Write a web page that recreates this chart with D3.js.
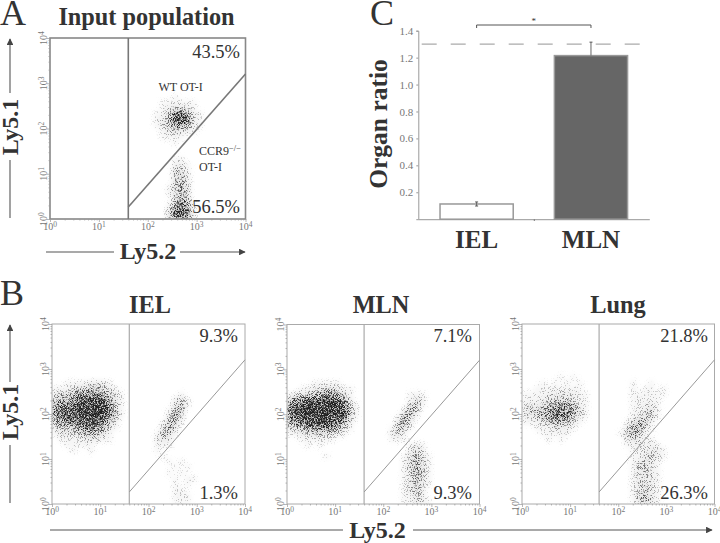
<!DOCTYPE html>
<html><head><meta charset="utf-8">
<script src="https://cdn.jsdelivr.net/npm/d3@7"></script>
<style>
html,body{margin:0;padding:0;background:#fff}
svg{display:block}
text{font-family:"Liberation Serif",serif}
</style></head><body><svg id="c" width="720" height="543"></svg>
<script>
// ---- Values ----
const barCategories = ["IEL", "MLN"];
const barValues = [0.113, 1.215];
const barErrors = [0.015, 0.1];
const barReference = 1.3;
const barTicks = [0.2, 0.4, 0.6, 0.8, 1.0, 1.2, 1.4];
const panelNames = ["Input population", "IEL", "MLN", "Lung"];
const upperPercents = ["43.5%", "9.3%", "7.1%", "21.8%"];
const lowerPercents = ["56.5%", "1.3%", "9.3%", "26.3%"];
const gateX = 40;
const gateDiagonal = [[40, 1.85], [10000, 1600]];
const logDecades = [1, 10, 100, 1000, 10000];

// Estimated event density (0-9) in 1/8-decade bins. Each string is one row, from
// log10(Ly5.1)=3 downwards; characters step through log10(Ly5.2) from 0.
const densityInput = [
"", "",
"000000000000 00000 0001",
"000000000000 00000 0111111",
"000000000000 00000 0123321",
"000000000000 00000 11367521",
"000000000000 00000 12489721",
"000000000000 00000 12356421",
"000000000000 00000 0123221",
"000000000000 00000 01111",
"000000000000 00000 0001",
"", "",
"000000000000 00000 00011",
"000000000000 00000 000221",
"000000000000 00000 000331",
"000000000000 00000 000342",
"000000000000 00000 000342",
"000000000000 00000 001343",
"000000000000 00000 001343",
"000000000000 00000 000354",
"000000000000 00000 0014751",
"000000000000 00000 0026861",
"000000000000 00000 0038972"];
const densityIEL = [
"", "",
"001111222100",
"111233443210",
"233456665321 00000 00001",
"445578887531 00000 000231",
"566789999631 00000 000341",
"677899999741 00000 00144",
"567789998631 00000 00352",
"455678887420 00000 01441",
"233456665210 00000 0352",
"122234433100 00000 1431",
"011112221100 00000 232",
"001111100000 00000 111",
"000100100000 00000 1",
"000000000000 00000 01",
"000000000000 00000 00101",
"000000000000 00000 000101",
"000000000000 00000 00101",
"000000000000 00000 0001011",
"000000000000 00000 000101",
"000000000000 00000 00011",
"000000000000 00000 000111",
"000000000000 00000 000111"];
const densityMLN = [
"", "",
"000011111000",
"001122332110",
"123345664310 00000 000111",
"456788997520 00000 000132",
"678999999731 00000 000341",
"789999999841 00000 00253",
"678999998731 00000 01441",
"567889987520 00000 0352",
"234566664210 00000 1431",
"112233322100 00000 231",
"001111110000 00000 111",
"000101000000 00000 000121",
"000000000000 00000 000232",
"000000100000 00000 0012421",
"000000000000 00000 0013431",
"000000000000 00000 0013431",
"000000000000 00000 0012431",
"000000000000 00000 0012431",
"000000000000 00000 0012421",
"000000000000 00000 001232",
"000000000000 00000 001132",
"000000000000 00000 0011321"];
const densityLung = [
"",
"000000101000",
"000101010100 00000 01001",
"001111111100 00000 0101101",
"111122222110 00000 0111111",
"111223332110 00000 011111",
"222345554210 00000 011221",
"233456665310 00000 011231",
"223456664210 00000 012341",
"111234432100 00000 13541",
"001112221000 00000 25521",
"000111110000 00001 35310",
"000010100000 00000 23211",
"000000000000 00000 112121",
"000000000000 00000 0112221",
"000000000000 00000 0112321",
"000000000000 00000 012321",
"000000000000 00000 013321",
"000000000000 00000 012321",
"000000000000 00000 012221",
"000000000000 00000 013321",
"000000000000 00000 012321",
"000000000000 00000 013421",
"000000000000 00000 013431"];
const densities = [densityInput, densityIEL, densityMLN, densityLung];

// ---- Layout ----
const svg = d3.select("#c");
const ink = "#333", tickInk = "#777";
const boxes = [
  {l:50, r:245.5, t:38, b:219, sw:1.6, col:"#888", pct:[240,58,213], lw:1.6},
  {l:52, r:245, t:324, b:504, sw:1, col:"#aaa", pct:[238,342,499], lw:1},
  {l:287, r:479.5, t:324.5, b:504, sw:1, col:"#aaa", pct:[472,342,499], lw:1},
  {l:522, r:714.5, t:324, b:504, sw:1, col:"#aaa", pct:[708,342,499], lw:1}
];
const titleSpots = [[146.5,25,24.3],[150,313,24.3],[381,313,24.3],[618,313,24.3]];

const defs = svg.append("defs");
boxes.forEach((b,i)=>{
  const f = defs.append("filter").attr("id","stipple"+i)
    .attr("filterUnits","userSpaceOnUse").attr("x",0).attr("y",0).attr("width",720).attr("height",543)
    .attr("color-interpolation-filters","sRGB");
  f.append("feGaussianBlur").attr("in","SourceAlpha").attr("stdDeviation",2.6).attr("result","blur");
  f.append("feTurbulence").attr("type","fractalNoise").attr("baseFrequency",1.3).attr("numOctaves",1).attr("seed",3+i).attr("result","noise");
  f.append("feColorMatrix").attr("in","noise").attr("type","matrix")
    .attr("values","0 0 0 0 0 0 0 0 0 0 0 0 0 0 0 2.8 0 0 0 -0.82").attr("result","grain");
  f.append("feComposite").attr("in","blur").attr("in2","grain").attr("operator","arithmetic")
    .attr("k1",0).attr("k2",1.6).attr("k3",1.6).attr("k4",-1.6).attr("result","dots");
  f.append("feFlood").attr("flood-color","#222").attr("result","ink");
  f.append("feComposite").attr("in","ink").attr("in2","dots").attr("operator","in").attr("result","speck");
  f.append("feGaussianBlur").attr("in","speck").attr("stdDeviation",0.4).attr("result","speckSoft");
  const tr = f.append("feComponentTransfer").attr("in","blur").attr("result","softAlpha");
  tr.append("feFuncA").attr("type","linear").attr("slope",0.28);
  f.append("feFlood").attr("flood-color","#444").attr("result","greyInk");
  f.append("feComposite").attr("in","greyInk").attr("in2","softAlpha").attr("operator","in").attr("result","soft");
  const m = f.append("feMerge");
  m.append("feMergeNode").attr("in","soft");
  m.append("feMergeNode").attr("in","speckSoft");
  defs.append("clipPath").attr("id","clip"+i).append("rect")
    .attr("x",b.l).attr("y",b.t).attr("width",b.r-b.l).attr("height",b.b-b.t);
});

function powerLabel(sel, exp){
  sel.text(null);
  sel.append("tspan").text("10");
  sel.append("tspan").attr("dy",-3).attr("font-size",7.5).text(exp);
}
const minorValues = d3.range(0,4).flatMap(k=>d3.range(1,10).map(m=>m*Math.pow(10,k))).concat([10000]);
const isMajor = v => logDecades.includes(v);

boxes.forEach((b,i)=>{
  const x = d3.scaleLog().domain([1,1e4]).range([b.l,b.r]);
  const y = d3.scaleLog().domain([1,1e4]).range([b.b,b.t]);
  const g = svg.append("g");

  // density
  const cells = [];
  densities[i].forEach((row,r)=>{
    row.replace(/ /g,"").split("").forEach((ch,c)=>{
      if (ch!=="0") cells.push({r,c,d:+ch});
    });
  });
  const dg = g.append("g").attr("clip-path",`url(#clip${i})`).append("g").attr("filter",`url(#stipple${i})`);
  dg.selectAll("rect").data(cells).join("rect")
    .attr("x",d=>x(Math.pow(10,d.c/8)))
    .attr("width",d=>x(Math.pow(10,(d.c+1)/8))-x(Math.pow(10,d.c/8)))
    .attr("y",d=>y(Math.pow(10,3-d.r/8)))
    .attr("height",d=>y(Math.pow(10,3-(d.r+1)/8))-y(Math.pow(10,3-d.r/8)))
    .attr("fill","#000").attr("fill-opacity",d=>Math.pow(d.d/9,0.8));

  // frame + gates
  g.append("rect").attr("x",b.l).attr("y",b.t).attr("width",b.r-b.l).attr("height",b.b-b.t)
    .attr("fill","none").attr("stroke",b.col).attr("stroke-width",b.sw);
  g.append("line").attr("x1",x(gateX)).attr("x2",x(gateX)).attr("y1",y(1)).attr("y2",y(1e4))
    .attr("stroke",i===0?"#777":"#aaa").attr("stroke-width",i===0?1.6:1.2);
  g.append("line").attr("x1",x(gateDiagonal[0][0])).attr("y1",y(gateDiagonal[0][1]))
    .attr("x2",x(gateDiagonal[1][0])).attr("y2",y(gateDiagonal[1][1]))
    .attr("stroke",i===0?"#777":"#999").attr("stroke-width",b.lw);

  // axes
  const ax = d3.axisBottom(x).tickValues(minorValues).tickFormat("");
  const ay = d3.axisLeft(y).tickValues(minorValues).tickFormat("");
  const gx = g.append("g").attr("transform",`translate(0,${b.b})`).call(ax);
  const gy = g.append("g").attr("transform",`translate(${b.l},0)`).call(ay);
  [gx,gy].forEach(a=>{
    a.select(".domain").remove();
    a.selectAll("line").attr("stroke","#999").attr("stroke-width",0.7);
  });
  gx.selectAll(".tick line").attr("y2",d=>isMajor(d)?3:1.5);
  gy.selectAll(".tick line").attr("x2",d=>isMajor(d)?-3:-1.5);
  logDecades.forEach((v,k)=>{
    g.append("text").attr("x",x(v)).attr("y",b.b+11).attr("text-anchor","middle")
      .attr("font-size",10).attr("fill",tickInk).call(powerLabel,k);
    g.append("text").attr("transform",`translate(${b.l-3.5},${y(v)}) rotate(-90)`).attr("text-anchor","middle")
      .attr("font-size",10).attr("fill",tickInk).call(powerLabel,k);
  });

  // percentages + title
  g.append("text").attr("x",b.pct[0]).attr("y",b.pct[1]).attr("text-anchor","end")
    .attr("font-size",18.5).attr("fill",ink).text(upperPercents[i]);
  g.append("text").attr("x",b.pct[0]).attr("y",b.pct[2]).attr("text-anchor","end")
    .attr("font-size",18.5).attr("fill",ink).text(lowerPercents[i]);
  const ts = titleSpots[i];
  g.append("text").attr("x",ts[0]).attr("y",ts[1]).attr("text-anchor","middle")
    .attr("font-size",ts[2]).attr("font-weight","bold").attr("fill",ink).text(panelNames[i]);
});

// population labels in A
function plain(x,y,s,t,anchor,weight,rot){
  const e = svg.append("text").attr("font-size",s).attr("fill",ink)
    .attr("text-anchor",anchor||"start").attr("font-weight",weight||"normal");
  if (rot) e.attr("transform",`translate(${x},${y}) rotate(-90)`); else e.attr("x",x).attr("y",y);
  return e.text(t);
}
plain(158.5,91,12,"WT OT-I");
const ccr = plain(199,155,12,"CCR9");
ccr.append("tspan").attr("dy",-4).attr("font-size",8.5).text("\u2212/\u2212");
plain(199,171,12,"OT-I");

// panel letters
plain(0,25,36,"A");
plain(0,305,36,"B");
plain(370,25,36,"C");

// axis titles + arrows
defs.append("marker").attr("id","head").attr("viewBox","0 0 10 10").attr("refX",9).attr("refY",5)
  .attr("markerWidth",8).attr("markerHeight",6).attr("orient","auto-start-reverse")
  .append("path").attr("d","M0,0L10,5L0,10z").attr("fill","#444");
function seg(x1,y1,x2,y2,head){
  const l = svg.append("line").attr("x1",x1).attr("y1",y1).attr("x2",x2).attr("y2",y2)
    .attr("stroke","#555").attr("stroke-width",1.1);
  if (head) l.attr("marker-end","url(#head)");
}
plain(18,127,24,"Ly5.1","middle","bold",true);
seg(10,218,10,160); seg(10,93,10,39,true);
plain(148,259,24,"Ly5.2","middle","bold");
seg(46,252,114,252); seg(180,252,245,252,true);
plain(18,412,24,"Ly5.1","middle","bold",true);
seg(10,503,10,445); seg(10,382,10,325,true);
plain(377.5,538,24,"Ly5.2","middle","bold");
seg(50,530,343,530); seg(413,530,712,530,true);

// ---- Panel C ----
const cx = d3.scaleBand().domain(barCategories).range([418.3,649.3]).paddingInner(0.36).paddingOuter(0.19);
const cy = d3.scaleLinear().domain([0,1.4]).range([219.2,30.7]);
const cg = svg.append("g");
const cAxis = d3.axisLeft(cy).tickValues(barTicks).tickFormat(d3.format(".1f")).tickSize(2);
const cay = cg.append("g").attr("transform","translate(418.3,0)").call(cAxis);
cay.select(".domain").attr("stroke","#999").attr("stroke-width",1);
cay.selectAll("line").attr("stroke","#999");
cay.selectAll("text").attr("font-size",11).attr("fill","#777").attr("font-family","Liberation Serif");
const cax = cg.append("g").attr("transform","translate(0,219.2)").call(d3.axisBottom(cx).tickSize(0).tickFormat(""));
cax.select(".domain").attr("stroke","#aaa").attr("stroke-width",1.3);
cg.append("line").attr("x1",534.3).attr("x2",534.3).attr("y1",219.2).attr("y2",221).attr("stroke","#777");

cg.append("line").attr("x1",421.7).attr("x2",642).attr("y1",cy(barReference)).attr("y2",cy(barReference))
  .attr("stroke","#aaa").attr("stroke-width",1.2).attr("stroke-dasharray","15,14");

cg.selectAll("rect.bar").data(barCategories).join("rect").attr("class","bar")
  .attr("x",d=>cx(d)).attr("width",cx.bandwidth())
  .attr("y",(d,i)=>cy(barValues[i])).attr("height",(d,i)=>cy(0)-cy(barValues[i]))
  .attr("fill",(d,i)=>i===0?"#fff":"#666").attr("stroke","#999").attr("stroke-width",1.5);
barCategories.forEach((c,i)=>{
  const mx = cx(c)+cx.bandwidth()/2;
  const up = cy(barValues[i]+barErrors[i]);
  const lo = i===0 ? cy(barValues[i]-barErrors[i]) : cy(barValues[i]);
  cg.append("line").attr("x1",mx).attr("x2",mx).attr("y1",up).attr("y2",lo).attr("stroke","#666").attr("stroke-width",1);
  cg.append("line").attr("x1",mx-1.5).attr("x2",mx+1.5).attr("y1",up).attr("y2",up).attr("stroke","#555").attr("stroke-width",1);
  if (i===0) cg.append("line").attr("x1",mx-1.5).attr("x2",mx+1.5).attr("y1",lo).attr("y2",lo).attr("stroke","#555").attr("stroke-width",1);
  plain(mx,248,25,c,"middle","bold");
});
plain(387,124,25.5,"Organ ratio","middle","bold",true);

// significance bracket
const bxs = barCategories.map(c=>cx(c)+cx.bandwidth()/2);
cg.append("path").attr("d",`M${bxs[0]},28V25H${bxs[1]}V28`).attr("fill","none").attr("stroke","#555").attr("stroke-width",1);
plain((bxs[0]+bxs[1])/2,24,9,"*","middle");
</script></body></html>
